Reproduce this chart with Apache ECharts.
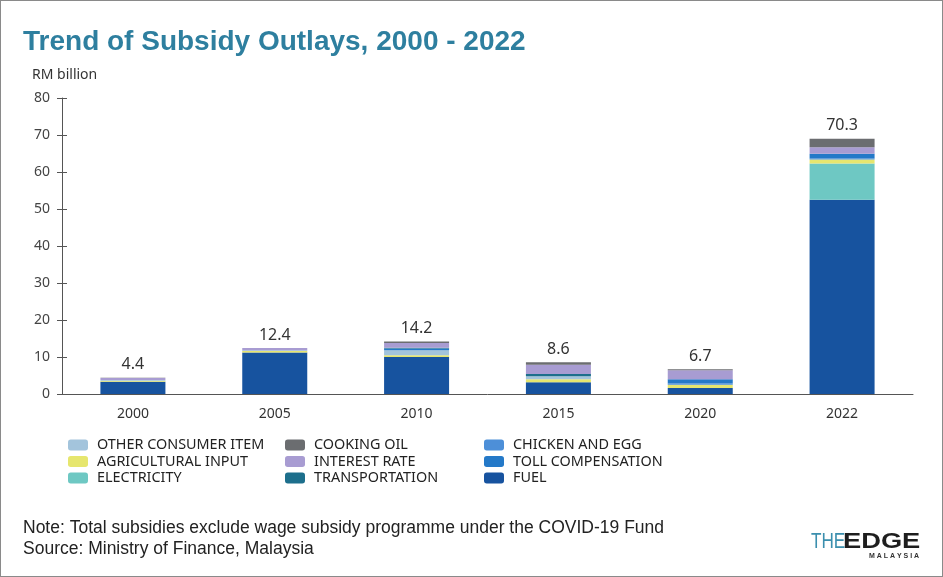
<!DOCTYPE html>
<html>
<head>
<meta charset="utf-8">
<script src="https://cdn.jsdelivr.net/npm/echarts@6/dist/echarts.min.js"></script>
<style>
  html, body { margin: 0; padding: 0; background: #fff; }
  #chart { width: 943px; height: 577px; box-sizing: border-box; border: 1px solid #8a8a8a; }
</style>
</head>
<body>
<div id="chart"></div>
<script>
// years and totals shown above the bars
var years = ['2000', '2005', '2010', '2015', '2020', '2022'];
var totals = ['4.4', '12.4', '14.2', '8.6', '6.7', '70.3'];

// segment values, RM billion, bottom to top
var fuel          = [3.3, 11.2, 10.0, 3.2, 1.6, 52.5];
var electricity   = [0, 0, 0, 0, 0, 9.8];
var agricultural  = [0.3, 0.4, 0.5, 0.8, 0.9, 1.1];
var otherConsumer = [0.2, 0.2, 1.3, 0.8, 0, 0];
var chickenEgg    = [0, 0, 0, 0, 0.4, 0.3];
var toll          = [0, 0, 0.5, 0, 1.1, 1.2];
var transport     = [0, 0, 0.2, 0.6, 0, 0];
var interest      = [0.5, 0.6, 1.3, 2.5, 2.4, 1.8];
var cookingOil    = [0.1, 0, 0.4, 0.7, 0.3, 2.3];

var yTicks = [0, 10, 20, 30, 40, 50, 60, 70, 80];

var layers = [
	{ name: 'FUEL', data: fuel, color: '#17539f' },
	{ name: 'ELECTRICITY', data: electricity, color: '#6ec8c3' },
	{ name: 'AGRICULTURAL INPUT', data: agricultural, color: '#e6e66e' },
	{ name: 'OTHER CONSUMER ITEM', data: otherConsumer, color: '#a3c4dc' },
	{ name: 'CHICKEN AND EGG', data: chickenEgg, color: '#4d8fd8' },
	{ name: 'TOLL COMPENSATION', data: toll, color: '#2479c8' },
	{ name: 'TRANSPORTATION', data: transport, color: '#1d6f8c' },
	{ name: 'INTEREST RATE', data: interest, color: '#a89cd2' },
	{ name: 'COOKING OIL', data: cookingOil, color: '#6b6d70' }
];

var myChart = echarts.init(document.getElementById('chart'));

var stackTop = years.map(function (y, i) {
	var s = 0;
	for (var k = 0; k < layers.length; k++) s += layers[k].data[i];
	return +s.toFixed(2);
});

var series = layers.map(function (l) {
	return {
		name: l.name,
		type: 'bar',
		stack: 'total',
		barWidth: 65,
		itemStyle: { color: l.color },
		data: l.data
	};
});
// invisible bar, only carries the total label
series.push({
	name: 'label',
	type: 'bar',
	barWidth: 65,
	barGap: '-100%',
	silent: true,
	z: 1,
	itemStyle: { color: 'rgba(0,0,0,0)' },
	label: {
		show: true,
		position: 'top',
		distance: 5,
		fontFamily: 'Noto Sans',
		fontSize: 16,
		color: '#333',
		formatter: function (p) { return totals[p.dataIndex]; }
	},
	data: stackTop
});

var legendText = { fontFamily: 'Noto Sans', fontSize: 14.4, color: '#222', padding: [0, 0, 0, 4] };
function legendCol(left, names) {
	return {
		orient: 'vertical',
		left: left,
		top: 432,
		itemWidth: 20,
		itemHeight: 11,
		itemGap: 2.5,
		selectedMode: false,
		textStyle: legendText,
		data: names
	};
}

var option = {
	animation: false,
	grid: { left: 61, right: 29, top: 97, bottom: 182 },
	title: {
		text: 'Trend of Subsidy Outlays, 2000 - 2022',
		left: 17,
		top: 22,
		textStyle: { fontFamily: 'Liberation Sans', fontWeight: 'bold', fontSize: 28, color: '#2e7f9f' }
	},
	legend: [
		legendCol(62, ['OTHER CONSUMER ITEM', 'AGRICULTURAL INPUT', 'ELECTRICITY']),
		legendCol(279, ['COOKING OIL', 'INTEREST RATE', 'TRANSPORTATION']),
		legendCol(478, ['CHICKEN AND EGG', 'TOLL COMPENSATION', 'FUEL'])
	],
	xAxis: {
		type: 'category',
		data: years,
		axisLine: { lineStyle: { color: '#555', width: 1 } },
		axisTick: { show: false },
		axisLabel: { fontFamily: 'Noto Sans', fontSize: 14, color: '#333', margin: 13 }
	},
	yAxis: [{
		type: 'value',
		min: yTicks[0],
		max: yTicks[yTicks.length - 1],
		interval: 10,
		name: 'RM billion',
		nameLocation: 'end',
		nameGap: 16,
		nameTextStyle: { fontFamily: 'Noto Sans', fontSize: 14, color: '#333', align: 'left', padding: [0, 0, 0, -30] },
		splitLine: { show: false },
		axisLine: { show: true, lineStyle: { color: '#555' } },
		axisTick: { show: true, length: 5, lineStyle: { color: '#555' } },
		axisLabel: { fontFamily: 'Noto Sans', fontSize: 14, color: '#444', margin: 12 }
	}, {
		// inner half of the ticks that cross the axis
		type: 'value',
		position: 'left',
		min: yTicks[0],
		max: yTicks[yTicks.length - 1],
		interval: 10,
		splitLine: { show: false },
		axisLine: { show: false },
		axisTick: { show: true, inside: true, length: 5, lineStyle: { color: '#555' } },
		axisLabel: { show: false }
	}],
	graphic: [
		{
			type: 'text', left: 22, top: 518,
			style: { text: 'Note: Total subsidies exclude wage subsidy programme under the COVID-19 Fund', font: '17.5px "Liberation Sans"', fill: '#222' }
		},
		{
			type: 'text', left: 22, top: 539,
			style: { text: 'Source: Ministry of Finance, Malaysia', font: '17.5px "Liberation Sans"', fill: '#222' }
		},
		{
			type: 'text', x: 810, y: 530, scaleX: 0.78,
			style: { text: 'THE', font: '22px "Liberation Sans"', fill: '#3b8fae' }
		},
		{
			type: 'text', x: 842, y: 530, scaleX: 1.24,
			style: { text: 'EDGE', font: 'bold 22px "Liberation Sans"', fill: '#1e1e1e' }
		},
		{
			type: 'text', x: 868, y: 552,
			style: { text: 'M A L A Y S I A', font: 'bold 7px "Liberation Sans"', fill: '#333' }
		}
	],
	series: series
};

myChart.setOption(option);
</script>
</body>
</html>
